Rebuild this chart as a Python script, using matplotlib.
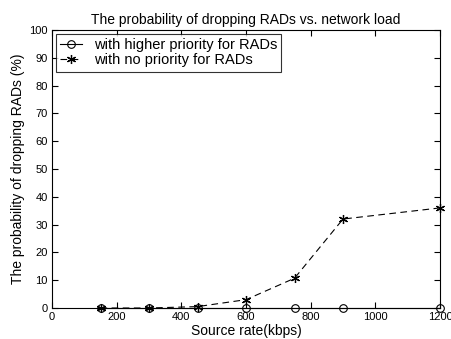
import matplotlib
matplotlib.use("Agg")
import matplotlib.pyplot as plt

plt.rcParams['font.family'] = ['Liberation Sans', 'DejaVu Sans']

rates = [150, 300, 450, 600, 750, 900, 1200]
drop_priority = [0, 0, 0, 0, 0, 0, 0]
drop_no_priority = [0, 0, 0.5, 3, 10.7, 32, 36]

fig = plt.figure(figsize=(4.51, 3.39), dpi=100)
ax = fig.add_axes([52 / 451, 1 - 308 / 339, 388 / 451, 278 / 339])

ax.plot(rates, drop_priority, '-o', color='black', lw=0.8, ms=5.5,
        mfc='none', mew=0.8, label='with higher priority for RADs', clip_on=False)
ax.plot(rates, drop_no_priority, '--', marker=(6, 2, 0), color='black', lw=0.8, ms=6.5,
        mew=0.9, dashes=(6, 4), label='with no priority for RADs', clip_on=False)

ax.set_xlim(0, 1200)
ax.set_ylim(0, 100)
ax.set_xticks(range(0, 1201, 200))
ax.set_yticks(range(0, 101, 10))
ax.tick_params(direction='in', top=True, right=True, labelsize=8, length=4, pad=3)
ax.set_xlabel('Source rate(kbps)', fontsize=10, labelpad=1)
ax.set_ylabel('The probability of dropping RADs (%)', fontsize=10, labelpad=3)
ax.set_title('The probability of dropping RADs vs. network load', fontsize=10, pad=4)

leg = ax.legend(loc='upper left', fontsize=10.5, fancybox=False, edgecolor='black',
                borderaxespad=0.25, handlelength=1.5, handletextpad=0.8,
                labelspacing=0.1, borderpad=0.3)
leg.get_frame().set_linewidth(0.8)

fig.savefig('out.png', dpi=100)
